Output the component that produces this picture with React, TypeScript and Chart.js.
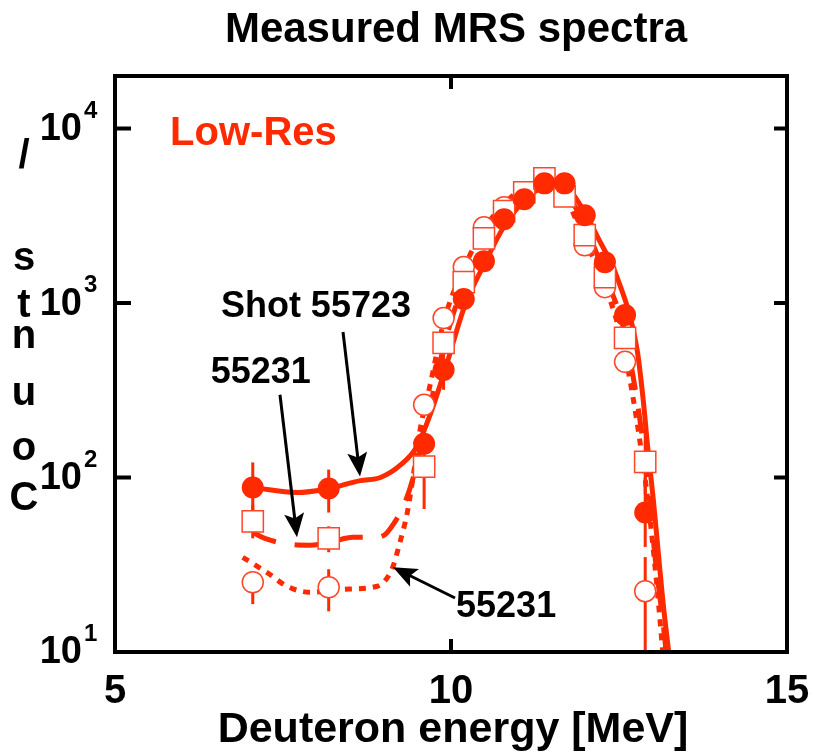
import { useEffect, useRef } from 'react';
import { Chart, registerables } from 'chart.js';

Chart.register(...registerables);

const RED = 'rgb(255,42,0)';
const RED_EDGE = 'rgb(255,70,40)';
const FONT = "'Liberation Sans', Arial, Helvetica, sans-serif";

// ---- data ----
const energy = [7.05, 8.18, 9.6, 9.89, 10.19, 10.49, 10.79, 11.09, 11.39, 11.69, 11.99, 12.29, 12.59, 12.89];

const shot55723 = [87.7, 86.5, 156, 414, 1054, 1738, 3020, 3930, 4850, 4850, 3184, 1715, 853, 63];
const shot55723Lo = [64, 63, 125, 318, 950, 1600, 2850, 3750, 4650, 4650, 3000, 1600, 780, 40];
const shot55723Hi = [122, 111, 195, 520, 1160, 1880, 3190, 4110, 5050, 5050, 3370, 1830, 930, 100];

const shotSquares = [56.1, 44.8, 115.6, 591, 1318, 2350, 3358, 4305, 5180, 4085, 2449, 1409, 631, 123];
const shotSquaresLo = [44.8, 37.3, 66, 540, 1230, 2240, 3220, 4150, 5000, 3930, 2330, 1320, 580, 80];
const shotSquaresHi = [70, 52.5, 170, 645, 1410, 2460, 3500, 4460, 5360, 4240, 2570, 1500, 690, 190];

const shotCircles = [25.1, 23.5, 261, 820, 1607, 2716, 3540, 4300, 5000, 4400, 2143, 1233, 460, 22.3];
const shotCirclesLo = [18.8, 17.1, 230, 760, 1520, 2600, 3400, 4150, 4850, 4250, 2040, 1160, 420, 5];
const shotCirclesHi = [28.6, 29.8, 300, 880, 1700, 2830, 3680, 4450, 5150, 4550, 2250, 1310, 505, 35];

const fitSolidX = [7.05, 7.71, 8.18, 8.65, 8.95, 9.25, 9.49, 9.69, 9.91, 10.21, 10.51, 10.8, 11.1, 11.4, 11.7, 11.99, 12.19, 12.47, 12.77, 12.86, 12.93, 13.01, 13.08, 13.15, 13.24, 13.29];
const fitSolidY = [87.7, 82, 86.5, 96, 100, 118, 150, 229, 414, 975, 1715, 2790, 3880, 4600, 4540, 3310, 2352, 1409, 538, 279, 145, 75, 38.8, 20.1, 10, 7];

const fitDashX = [7.05, 7.23, 7.6, 7.9, 8.2, 8.54, 8.84, 9.02, 9.14, 9.29, 9.43, 9.58, 9.88, 10.18, 10.48, 10.77, 11.07, 11.38, 11.68, 11.99, 12.29, 12.59, 12.89, 13.04, 13.2, 13.23];
const fitDashY = [48.5, 44.8, 41.4, 40.9, 42.5, 45.4, 45.4, 47.2, 53.9, 68.2, 97.5, 165, 539, 1268, 2291, 3400, 4424, 5050, 4424, 2790, 1445, 656, 127, 34, 10, 7];

const fitDotX = [6.9, 7.26, 7.56, 7.9, 8.39, 8.9, 9.12, 9.24, 9.35, 9.43, 9.54, 9.69, 9.9, 10.18, 10.48, 10.77, 11.07, 11.38, 11.68, 11.99, 12.29, 12.59, 12.89, 13.04, 13.15, 13.18];
const fitDotY = [34.9, 28.6, 23.8, 22.0, 22.9, 23.8, 29.8, 42.5, 63.1, 97.5, 188, 340, 800, 1545, 2614, 3630, 4540, 4910, 4140, 2290, 1268, 505, 97.5, 29.8, 10, 7];

const xTickValues = [5, 10, 15];
const xTickLabels = ['5', '10', '15'];
const yTickValues = [10, 100, 1000, 10000];
const yTickExponents = ['1', '2', '3', '4'];
const yAxisLetters = ['/', 's', 't', 'n', 'u', 'o', 'C'];
const yAxisLetterBaselines = [168, 270, 317, 348, 405, 460, 510];

const titleText = 'Measured MRS spectra';
const xTitleText = 'Deuteron energy [MeV]';
const seriesLabel = 'Low-Res';
const seriesLabelX = 5.82;
const seriesLabelY = 8000;

const noteTexts = ['Shot 55723', '55231', '55231'];
const noteX = [7.99, 7.17, 10.82];
const noteY = [832, 349, 15.85];
const arrowFromX = [8.393, 7.455, 10.06];
const arrowFromY = [682, 298, 20.4];
const arrowToX = [8.646, 7.708, 9.137];
const arrowToY = [101.4, 45.4, 30.6];

const pts = (xs: number[], ys: number[]) => xs.map((x, i) => ({ x, y: ys[i] }));

function drawArrow(ctx: CanvasRenderingContext2D, x0: number, y0: number, x1: number, y1: number) {
  const ang = Math.atan2(y1 - y0, x1 - x0);
  const c = Math.cos(ang), s = Math.sin(ang);
  const L = 24, W = 10;
  const bx = x1 - L * c, by = y1 - L * s;
  ctx.lineWidth = 3;
  ctx.beginPath();
  ctx.moveTo(x0, y0);
  ctx.lineTo(bx + 6 * c, by + 6 * s);
  ctx.stroke();
  ctx.beginPath();
  ctx.moveTo(x1, y1);
  ctx.lineTo(bx - W * s, by + W * c);
  ctx.lineTo(bx + 5 * c, by + 5 * s);
  ctx.lineTo(bx + W * s, by - W * c);
  ctx.closePath();
  ctx.fill();
}

const overlay = {
  id: 'overlay',
  beforeDatasetsDraw(chart: any) {
    const { ctx, chartArea: a, scales } = chart;
    const x = scales.x, y = scales.y;
    ctx.save();
    ctx.beginPath();
    ctx.rect(a.left, a.top, a.right - a.left, a.bottom - a.top);
    ctx.clip();
    ctx.strokeStyle = RED;
    ctx.lineWidth = 3;
    const groups = [
      [shot55723Lo, shot55723Hi],
      [shotSquaresLo, shotSquaresHi],
      [shotCirclesLo, shotCirclesHi],
    ];
    groups.forEach(([lo, hi]) => {
      energy.forEach((e, i) => {
        const px = x.getPixelForValue(e);
        ctx.beginPath();
        ctx.moveTo(px, y.getPixelForValue(lo[i]));
        ctx.lineTo(px, y.getPixelForValue(hi[i]));
        ctx.stroke();
      });
    });
    ctx.restore();
  },
  afterDatasetsDraw(chart: any) {
    const { ctx, chartArea: a, scales } = chart;
    const x = scales.x, y = scales.y;
    ctx.save();
    // frame
    ctx.strokeStyle = '#000';
    ctx.lineWidth = 4;
    ctx.strokeRect(a.left, a.top, a.right - a.left, a.bottom - a.top);
    // ticks
    ctx.lineWidth = 4;
    xTickValues.forEach((v) => {
      const px = x.getPixelForValue(v);
      ctx.beginPath();
      ctx.moveTo(px, a.bottom);
      ctx.lineTo(px, a.bottom - 13);
      ctx.moveTo(px, a.top);
      ctx.lineTo(px, a.top + 13);
      ctx.stroke();
    });
    yTickValues.forEach((v) => {
      const py = y.getPixelForValue(v);
      ctx.beginPath();
      ctx.moveTo(a.left, py);
      ctx.lineTo(a.left + 16, py);
      ctx.moveTo(a.right, py);
      ctx.lineTo(a.right - 13, py);
      ctx.stroke();
    });
    ctx.fillStyle = '#000';
    // x tick labels
    ctx.font = `bold 40px ${FONT}`;
    ctx.textAlign = 'center';
    ctx.textBaseline = 'alphabetic';
    xTickValues.forEach((v, i) => {
      ctx.fillText(xTickLabels[i], x.getPixelForValue(v), a.bottom + 51);
    });
    // y tick labels
    yTickValues.forEach((v, i) => {
      const py = y.getPixelForValue(v);
      ctx.font = `bold 38px ${FONT}`;
      ctx.textAlign = 'right';
      ctx.textBaseline = 'middle';
      ctx.fillText('10', a.left - 33, py + 1);
      ctx.font = `bold 24px ${FONT}`;
      ctx.textAlign = 'left';
      ctx.textBaseline = 'alphabetic';
      ctx.fillText(yTickExponents[i], a.left - 31, py - 11);
    });
    // y axis letters
    ctx.font = `bold 40px ${FONT}`;
    ctx.textAlign = 'center';
    ctx.textBaseline = 'alphabetic';
    yAxisLetters.forEach((ch, i) => ctx.fillText(ch, 24, yAxisLetterBaselines[i]));
    // titles
    const cx = (a.left + a.right) / 2;
    ctx.font = `bold 42px ${FONT}`;
    ctx.fillText(titleText, cx + 5, 42);
    ctx.font = `bold 43px ${FONT}`;
    ctx.fillText(xTitleText, cx + 2, a.bottom + 90);
    // series label
    ctx.fillStyle = RED;
    ctx.font = `bold 40px ${FONT}`;
    ctx.textAlign = 'left';
    ctx.fillText(seriesLabel, x.getPixelForValue(seriesLabelX), y.getPixelForValue(seriesLabelY));
    // notes
    ctx.fillStyle = '#000';
    ctx.strokeStyle = '#000';
    ctx.font = `bold 36px ${FONT}`;
    ctx.textAlign = 'center';
    noteTexts.forEach((t, i) => {
      ctx.fillText(t, x.getPixelForValue(noteX[i]), y.getPixelForValue(noteY[i]));
      drawArrow(
        ctx,
        x.getPixelForValue(arrowFromX[i]),
        y.getPixelForValue(arrowFromY[i]),
        x.getPixelForValue(arrowToX[i]),
        y.getPixelForValue(arrowToY[i])
      );
    });
    ctx.restore();
  },
};

export default function App() {
  const ref = useRef<HTMLCanvasElement | null>(null);
  useEffect(() => {
    if (!ref.current) return;
    const lineCommon = {
      showLine: true,
      pointRadius: 0,
      borderColor: RED,
      borderWidth: 5,
      fill: false,
      tension: 0.4,
      cubicInterpolationMode: 'monotone',
      borderCapStyle: 'butt',
      clip: 0,
    };
    const chart = new Chart(ref.current, {
      type: 'scatter',
      data: {
        datasets: [
          {
            label: '55723',
            data: pts(energy, shot55723),
            pointStyle: 'circle',
            pointRadius: 11,
            backgroundColor: RED,
            borderColor: RED,
            borderWidth: 0,
          },
          {
            label: '55231 squares',
            data: pts(energy, shotSquares),
            pointStyle: 'rect',
            pointRadius: 15,
            backgroundColor: '#fff',
            borderColor: RED_EDGE,
            borderWidth: 1.5,
          },
          {
            label: '55231 circles',
            data: pts(energy, shotCircles),
            pointStyle: 'circle',
            pointRadius: 10.5,
            backgroundColor: '#fff',
            borderColor: RED_EDGE,
            borderWidth: 1.5,
          },
          { label: 'fit 55723', data: pts(fitSolidX, fitSolidY), ...lineCommon },
          { label: 'fit squares', data: pts(fitDashX, fitDashY), ...lineCommon, borderDash: [25, 19] },
          { label: 'fit circles', data: pts(fitDotX, fitDotY), ...lineCommon, borderDash: [7, 7] },
        ] as any,
      },
      options: {
        animation: false,
        responsive: false,
        events: [],
        layout: { padding: { left: 115, right: 27, top: 76, bottom: 103 } },
        plugins: { legend: { display: false }, tooltip: { enabled: false }, title: { display: false } },
        scales: {
          x: {
            type: 'linear',
            min: 5,
            max: 15,
            grid: { display: false, drawTicks: false },
            border: { display: false },
            ticks: { display: false },
            afterFit: (s: any) => { s.height = 0; },
          },
          y: {
            type: 'logarithmic',
            min: 10,
            max: 20000,
            grid: { display: false, drawTicks: false },
            border: { display: false },
            ticks: { display: false },
            afterFit: (s: any) => { s.width = 0; },
          },
        },
      } as any,
      plugins: [overlay],
    });
    return () => chart.destroy();
  }, []);
  return (
    <div style={{ position: 'fixed', left: 0, top: 0, width: 814, height: 755, background: '#fff' }}>
      <canvas ref={ref} width={814} height={755} style={{ display: 'block' }} />
    </div>
  );
}
